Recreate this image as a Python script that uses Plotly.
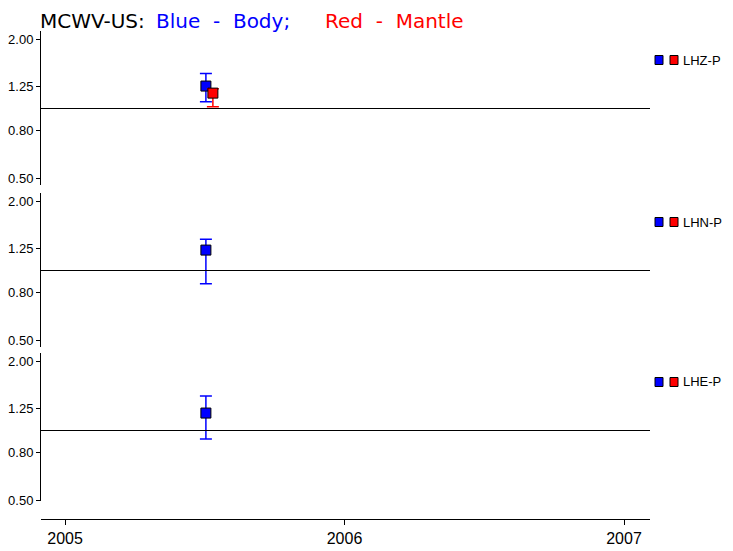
import math
import plotly.graph_objects as go

# ---------------- data ----------------
COMPONENTS = ["LHZ-P", "LHN-P", "LHE-P"]
BODY_T = [2005.504, 2005.504, 2005.504]
BODY_VAL = [1.251, 1.226, 1.190]
BODY_HI = [1.418, 1.366, 1.410]
BODY_LO = [1.070, 0.877, 0.919]
MANTLE_T = [2005.529, None, None]
MANTLE_VAL = [1.166, None, None]
MANTLE_HI = [1.219, None, None]
MANTLE_LO = [1.017, None, None]
Y_TICKS = [0.5, 0.8, 1.25, 2.0]
Y_TICK_TEXT = ["0.50", "0.80", "1.25", "2.00"]
X_TICKS = [2005, 2006, 2007]
X_TICK_TEXT = ["2005", "2006", "2007"]
REF = 1.0

OFF = 8  # default page body margin
W, H = 733 - OFF, 551 - OFF
# plot area in screen pixels
SL, SR, ST, SB = 41, 650, 31, 519
L, R, T, B = SL - OFF, SR - OFF, ST - OFF, SB - OFF


def px2x(px):  # screen px -> paper x
    return (px - OFF - L) / (R - L)


def px2y(py):  # screen px -> paper y
    return (B - (py - OFF)) / (B - T)


PX_PER_DEC = 230.9
panels = [(31, 185), (193, 347), (353, 501)]  # screen pixel tops/bottoms

BLUE = "#0000ff"
RED = "#ff0000"

fig = go.Figure()
shapes = []
annotations = []

for i, comp in enumerate(COMPONENTS):
    yname = "y" if i == 0 else f"y{i+1}"
    lname = "yaxis" if i == 0 else f"yaxis{i+1}"
    top, bot = panels[i]
    top_log = math.log10(2.0) + 8 / PX_PER_DEC
    bot_log = top_log - (bot - top) / PX_PER_DEC
    fig.update_layout(**{lname: dict(
        domain=[px2y(bot), px2y(top)], type="log", range=[bot_log, top_log],
        tickvals=Y_TICKS, ticktext=Y_TICK_TEXT, ticks="outside", ticklen=4,
        tickcolor="black", tickwidth=1, showline=True, linecolor="black",
        linewidth=1, showgrid=False, zeroline=False, anchor="x",
        automargin=False,
        tickfont=dict(family="Liberation Sans", size=13, color="black"),
    )})
    # reference line at 1.0
    shapes.append(dict(type="line", xref="x domain", yref=yname,
                       x0=0, x1=1, y0=REF, y1=REF,
                       line=dict(color="black", width=1)))
    # body
    fig.add_trace(go.Scatter(
        x=[BODY_T[i]], y=[BODY_VAL[i]], xaxis="x", yaxis=yname, mode="markers",
        marker=dict(symbol="square", size=10, color=BLUE,
                    line=dict(color="black", width=1)),
        error_y=dict(type="data", symmetric=False,
                     array=[BODY_HI[i] - BODY_VAL[i]],
                     arrayminus=[BODY_VAL[i] - BODY_LO[i]],
                     color=BLUE, thickness=1.5, width=6),
        showlegend=False))
    if MANTLE_VAL[i] is not None:
        fig.add_trace(go.Scatter(
            x=[MANTLE_T[i]], y=[MANTLE_VAL[i]], xaxis="x", yaxis=yname,
            mode="markers",
            marker=dict(symbol="square", size=10, color=RED,
                        line=dict(color="black", width=1)),
            error_y=dict(type="data", symmetric=False,
                         array=[MANTLE_HI[i] - MANTLE_VAL[i]],
                         arrayminus=[MANTLE_VAL[i] - MANTLE_LO[i]],
                         color=RED, thickness=1.5, width=6),
            showlegend=False))
    # legend boxes + label
    ly = top + 29
    for x0, col in [(655, BLUE), (670, RED)]:
        shapes.append(dict(type="rect", xref="paper", yref="paper",
                           x0=px2x(x0), x1=px2x(x0 + 8),
                           y0=px2y(ly + 4.5), y1=px2y(ly - 4.5),
                           fillcolor=col, line=dict(color="black", width=1)))
    annotations.append(dict(text=comp, xref="paper", yref="paper",
                            x=px2x(681), y=px2y(ly), xanchor="left",
                            yanchor="middle", showarrow=False,
                            font=dict(family="Liberation Sans", size=13,
                                      color="black")))

# title pieces (anchored at the top edge of the figure so nothing is clipped)
for txt, px, col in [("MCWV-US:", 39, "black"), ("Blue  -  Body;", 155, BLUE),
                     ("Red  -  Mantle", 324, RED)]:
    annotations.append(dict(text=txt, xref="paper", yref="paper",
                            x=px2x(px), y=px2y(OFF), xanchor="left",
                            yanchor="top", showarrow=False, borderpad=0,
                            font=dict(family="DejaVu Sans", size=20, color=col)))

fig.update_layout(
    template="none",
    width=W, height=H,
    margin=dict(l=L, r=W - R, t=T, b=H - B, pad=0, autoexpand=False),
    paper_bgcolor="white", plot_bgcolor="white",
    xaxis=dict(range=[2004.914, 2007.093], tickvals=X_TICKS,
               ticktext=X_TICK_TEXT, ticks="outside", ticklen=5,
               tickcolor="black", tickwidth=1, showline=True,
               linecolor="black", linewidth=1, showgrid=False,
               zeroline=False, anchor="free", position=0, automargin=False,
               tickfont=dict(family="Liberation Sans", size=16, color="black")),
    shapes=shapes, annotations=annotations, showlegend=False,
)

fig.write_html("out.html")
